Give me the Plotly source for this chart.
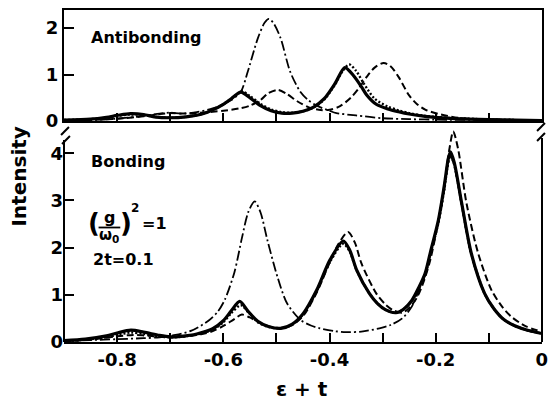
import plotly.graph_objects as go

# ---------------- data: spectral intensity vs (epsilon + t) ----------------
# Antibonding panel
ab_solid_x = [-0.90, -0.85, -0.82, -0.80, -0.775, -0.75, -0.73, -0.70, -0.67, -0.64, -0.62, -0.60,
              -0.585, -0.567, -0.55, -0.53, -0.51, -0.49, -0.47, -0.45, -0.43, -0.41, -0.39, -0.371,
              -0.355, -0.34, -0.33, -0.312, -0.29, -0.27, -0.25, -0.22, -0.18, -0.14, -0.10, -0.05, 0.00]
ab_solid_y = [0.02, 0.04, 0.08, 0.12, 0.16, 0.14, 0.09, 0.07, 0.09, 0.15, 0.24, 0.36,
              0.48, 0.62, 0.50, 0.33, 0.22, 0.17, 0.17, 0.21, 0.30, 0.48, 0.80, 1.15,
              0.98, 0.74, 0.56, 0.36, 0.26, 0.20, 0.15, 0.10, 0.06, 0.04, 0.03, 0.02, 0.01]

ab_dot_x = [-0.90, -0.85, -0.82, -0.80, -0.775, -0.75, -0.73, -0.70, -0.67, -0.64, -0.62, -0.60,
            -0.585, -0.565, -0.55, -0.53, -0.51, -0.49, -0.47, -0.45, -0.43, -0.41, -0.39, -0.375,
            -0.363, -0.35, -0.335, -0.315, -0.29, -0.27, -0.25, -0.22, -0.18, -0.14, -0.10, -0.05, 0.00]
ab_dot_y = [0.02, 0.04, 0.07, 0.11, 0.14, 0.13, 0.09, 0.07, 0.09, 0.15, 0.24, 0.36,
            0.48, 0.64, 0.54, 0.37, 0.25, 0.19, 0.18, 0.21, 0.29, 0.46, 0.78, 1.08,
            1.22, 1.08, 0.80, 0.48, 0.31, 0.23, 0.17, 0.11, 0.07, 0.05, 0.03, 0.02, 0.01]

ab_dash_x = [-0.90, -0.85, -0.80, -0.75, -0.72, -0.70, -0.68, -0.65, -0.62, -0.60, -0.57, -0.55,
             -0.53, -0.515, -0.497, -0.48, -0.46, -0.44, -0.42, -0.40, -0.38, -0.36, -0.345, -0.33,
             -0.315, -0.298, -0.285, -0.27, -0.25, -0.235, -0.219, -0.19, -0.158, -0.12, -0.08,
             -0.04, 0.00]
ab_dash_y = [0.01, 0.02, 0.05, 0.10, 0.15, 0.17, 0.16, 0.17, 0.20, 0.22, 0.27, 0.33,
             0.45, 0.60, 0.67, 0.58, 0.42, 0.30, 0.24, 0.24, 0.32, 0.50, 0.70, 0.95,
             1.15, 1.25, 1.18, 0.95, 0.55, 0.36, 0.24, 0.14, 0.07, 0.04, 0.03,
             0.02, 0.01]

ab_dashdot_x = [-0.90, -0.85, -0.80, -0.75, -0.72, -0.70, -0.68, -0.65, -0.62, -0.60, -0.585, -0.567,
                -0.554, -0.535, -0.522, -0.514, -0.505, -0.492, -0.474, -0.455, -0.44, -0.424, -0.40,
                -0.387, -0.35, -0.30, -0.25, -0.20, -0.10, 0.00]
ab_dashdot_y = [0.01, 0.02, 0.05, 0.11, 0.16, 0.18, 0.16, 0.19, 0.27, 0.36, 0.45, 0.63,
                1.06, 1.78, 2.12, 2.20, 2.10, 1.78, 1.06, 0.63, 0.45, 0.33, 0.22,
                0.17, 0.12, 0.06, 0.04, 0.03, 0.02, 0.01]

# Bonding panel
b_solid_x = [-0.90, -0.86, -0.82, -0.80, -0.774, -0.75, -0.72, -0.70, -0.68, -0.65, -0.62, -0.60,
             -0.585, -0.569, -0.554, -0.535, -0.515, -0.492, -0.47, -0.449, -0.424, -0.399, -0.374,
             -0.362, -0.349, -0.325, -0.31, -0.294, -0.275, -0.26, -0.245, -0.232, -0.22, -0.21,
             -0.195, -0.184, -0.176, -0.172, -0.165, -0.151, -0.133, -0.108, -0.09, -0.071, -0.05,
             -0.027, 0.00]
b_solid_y = [0.03, 0.06, 0.13, 0.19, 0.25, 0.21, 0.14, 0.11, 0.12, 0.17, 0.28, 0.45,
             0.66, 0.86, 0.66, 0.44, 0.33, 0.29, 0.38, 0.61, 1.10, 1.74, 2.14,
             1.95, 1.53, 1.03, 0.82, 0.68, 0.62, 0.70, 0.88, 1.15, 1.45, 1.90,
             2.58, 3.30, 3.90, 4.03, 3.80, 2.94, 1.88, 1.03, 0.70, 0.47, 0.34,
             0.25, 0.18]

b_dot_x = [-0.90, -0.86, -0.82, -0.80, -0.774, -0.75, -0.72, -0.70, -0.68, -0.65, -0.62, -0.60,
           -0.585, -0.567, -0.552, -0.535, -0.515, -0.492, -0.47, -0.449, -0.424, -0.399, -0.374,
           -0.362, -0.349, -0.325, -0.31, -0.294, -0.275, -0.26, -0.245, -0.232, -0.22, -0.21,
           -0.195, -0.184, -0.176, -0.172, -0.165, -0.151, -0.133, -0.108, -0.09, -0.071, -0.05,
           -0.027, 0.00]
b_dot_y = [0.02, 0.05, 0.10, 0.15, 0.20, 0.17, 0.12, 0.10, 0.11, 0.16, 0.26, 0.42,
           0.61, 0.78, 0.62, 0.42, 0.32, 0.29, 0.37, 0.60, 1.08, 1.70, 2.08,
           1.92, 1.52, 1.03, 0.82, 0.68, 0.62, 0.70, 0.87, 1.13, 1.42, 1.86,
           2.52, 3.22, 3.82, 3.95, 3.75, 2.92, 1.87, 1.03, 0.70, 0.47, 0.34,
           0.25, 0.18]

b_dash_x = [-0.90, -0.86, -0.82, -0.80, -0.77, -0.75, -0.72, -0.70, -0.67, -0.64, -0.62, -0.60,
            -0.58, -0.565, -0.55, -0.53, -0.51, -0.49, -0.47, -0.449, -0.424, -0.399, -0.383,
            -0.365, -0.352, -0.34, -0.312, -0.295, -0.281, -0.263, -0.25, -0.235, -0.222, -0.21,
            -0.196, -0.184, -0.174, -0.167, -0.158, -0.142, -0.12, -0.095, -0.075, -0.058, -0.03,
            0.00]
b_dash_y = [0.02, 0.04, 0.09, 0.12, 0.15, 0.14, 0.11, 0.10, 0.12, 0.17, 0.23, 0.34,
            0.48, 0.58, 0.52, 0.40, 0.32, 0.30, 0.36, 0.56, 1.05, 1.70, 2.08,
            2.33, 2.10, 1.67, 1.03, 0.80, 0.68, 0.62, 0.72, 0.95, 1.30, 1.75,
            2.50, 3.30, 4.10, 4.46, 4.10, 2.94, 1.88, 1.10, 0.75, 0.54, 0.33,
            0.22]

b_dashdot_x = [-0.90, -0.85, -0.80, -0.75, -0.72, -0.69, -0.66, -0.628, -0.61, -0.597, -0.579,
               -0.565, -0.553, -0.541, -0.53, -0.517, -0.498, -0.48, -0.455, -0.435, -0.418, -0.39,
               -0.368, -0.34, -0.306, -0.285, -0.263, -0.245, -0.232, -0.22, -0.21, -0.195, -0.184,
               -0.176, -0.172, -0.165, -0.151, -0.133, -0.108, -0.09, -0.071, -0.05, -0.027, 0.00]
b_dashdot_y = [0.02, 0.04, 0.06, 0.08, 0.10, 0.15, 0.24, 0.45, 0.65, 0.90, 1.48,
               2.20, 2.75, 2.98, 2.75, 2.16, 1.38, 0.82, 0.47, 0.35, 0.29, 0.23,
               0.21, 0.22, 0.29, 0.36, 0.50, 0.75, 1.08, 1.42, 1.86, 2.52, 3.22,
               3.82, 3.93, 3.74, 2.90, 1.85, 1.02, 0.70, 0.47, 0.33, 0.24, 0.17]

x_major_ticks = [-0.8, -0.6, -0.4, -0.2, 0.0]
x_major_text = ["-0.8", "-0.6", "-0.4", "-0.2", "0"]
x_minor_ticks = [-0.7, -0.5, -0.3, -0.1]
top_yticks = [0, 1, 2]
bottom_yticks = [0, 1, 2, 3, 4]

# ---------------- page geometry ----------------
W, H = 551, 407
ML, MR, MT, MB = 64, 3, 10, 65
PW, PH = W - ML - MR, H - MT - MB


def X(px):
    return (px - ML) / PW


def Y(py):
    return (H - MB - py) / PH


FONT = "DejaVu Sans"
INK = "black"

styles = {
    "solid": dict(color=INK, width=3.2),
    "dot": dict(color=INK, width=2.4, dash="2px,2px"),
    "dash": dict(color=INK, width=2.0, dash="7px,3.5px"),
    "dashdot": dict(color=INK, width=1.8, dash="10px,3px,2px,3px"),
}

fig = go.Figure()


def add(xs, ys, style, xa, ya):
    fig.add_trace(go.Scatter(x=xs, y=ys, mode="lines",
                             line=dict(shape="spline", smoothing=0.8, **styles[style]),
                             xaxis=xa, yaxis=ya, showlegend=False, hoverinfo="skip"))


# antibonding (upper panel)
add(ab_solid_x, ab_solid_y, "solid", "x2", "y2")
add(ab_dot_x, ab_dot_y, "dot", "x2", "y2")
add(ab_dash_x, ab_dash_y, "dash", "x2", "y2")
add(ab_dashdot_x, ab_dashdot_y, "dashdot", "x2", "y2")
# bonding (lower panel)
add(b_solid_x, b_solid_y, "solid", "x", "y")
add(b_dot_x, b_dot_y, "dot", "x", "y")
add(b_dash_x, b_dash_y, "dash", "x", "y")
add(b_dashdot_x, b_dashdot_y, "dashdot", "x", "y")

top_bottom_px = 121   # x-axis line of the upper panel
low_top_px = 123      # top of the lower panel's plotting area

tickfont = dict(family=FONT, size=18, color=INK, weight="bold")
minor_x = dict(tickvals=x_minor_ticks, ticks="inside", ticklen=9, tickwidth=1.5,
               tickcolor=INK, showgrid=False)
x_range = [-0.9, 0.0002]
fig.update_layout(
    width=W, height=H,
    margin=dict(l=ML, r=MR, t=MT, b=MB, pad=0),
    paper_bgcolor="white", plot_bgcolor="white",
    xaxis=dict(domain=[0, 1], anchor="y", range=x_range, showgrid=False, zeroline=False,
               showline=True, linecolor=INK, linewidth=2, ticks="inside", ticklen=9, tickwidth=1.5,
               tickcolor=INK, tickvals=x_major_ticks, ticktext=x_major_text, tickfont=tickfont,
               ticklabeloverflow="allow", minor=minor_x),
    xaxis2=dict(domain=[0, 1], anchor="y2", range=x_range, showgrid=False, zeroline=False,
                showline=True, mirror=True, linecolor=INK, linewidth=2, ticks="inside", ticklen=8,
                tickwidth=1.5, tickcolor=INK, tickvals=x_major_ticks, showticklabels=False,
                minor=dict(minor_x, ticklen=8)),
    yaxis=dict(domain=[0, Y(low_top_px)], anchor="x", range=[0, (H - MB - low_top_px) / 47.2],
               showgrid=False, zeroline=False, showline=False, ticks="inside", ticklen=10,
               tickwidth=1.5, tickcolor=INK, tickvals=bottom_yticks, tickfont=tickfont,
               ticklabelstandoff=0),
    yaxis2=dict(domain=[Y(top_bottom_px), 1], anchor="x2", range=[0, 2.39], showgrid=False,
                zeroline=False, showline=True, mirror=True, linecolor=INK, linewidth=2,
                ticks="inside", ticklen=10, tickwidth=1.5, tickcolor=INK, tickvals=top_yticks,
                tickfont=tickfont, ticklabelstandoff=0),
)

# lower-panel frame sides (broken axis) and break marks
shapes = [
    dict(type="line", xref="paper", yref="paper", x0=0, x1=0, y0=0, y1=Y(140),
         line=dict(color=INK, width=2)),
    dict(type="line", xref="paper", yref="paper", x0=1, x1=1, y0=0, y1=Y(138),
         line=dict(color=INK, width=2)),
]
for cx, cy in [(65, 131), (66, 140), (547, 127), (547, 137)]:
    shapes.append(dict(type="line", xref="paper", yref="paper",
                       x0=X(cx - 4), y0=Y(cy + 4), x1=X(cx + 4), y1=Y(cy - 4),
                       line=dict(color=INK, width=2)))
# fraction bar of (g / omega_0)
shapes.append(dict(type="line", xref="paper", yref="paper", x0=X(99), x1=X(121), y0=Y(227.5), y1=Y(227.5),
                   line=dict(color=INK, width=1.8)))
fig.update_layout(shapes=shapes)


def label(text, px, py, size, xanchor="left", yanchor="middle", angle=0):
    fig.add_annotation(text=text, x=X(px), y=Y(py), xref="paper", yref="paper", showarrow=False,
                       xanchor=xanchor, yanchor=yanchor, textangle=angle,
                       font=dict(family=FONT, size=size, color=INK, weight="bold"))


label("Antibonding", 89, 37, 16)
label("Bonding", 89, 161, 16)
label("(", 94, 223, 26, xanchor="center")
label("g", 110, 217, 16, xanchor="center")
label("ω<sub>0</sub>", 110, 235, 15, xanchor="center")
label(")", 126.5, 223, 26, xanchor="center")
label("2", 136, 208, 12, xanchor="center")
label("=1", 141, 223, 16)
label("2t=0.1", 91, 259, 16)
label("Intensity", 18, 177, 20, xanchor="center", angle=-90)
label("ε + t", 305, 389, 20, xanchor="center")

fig.write_html("out.html")
